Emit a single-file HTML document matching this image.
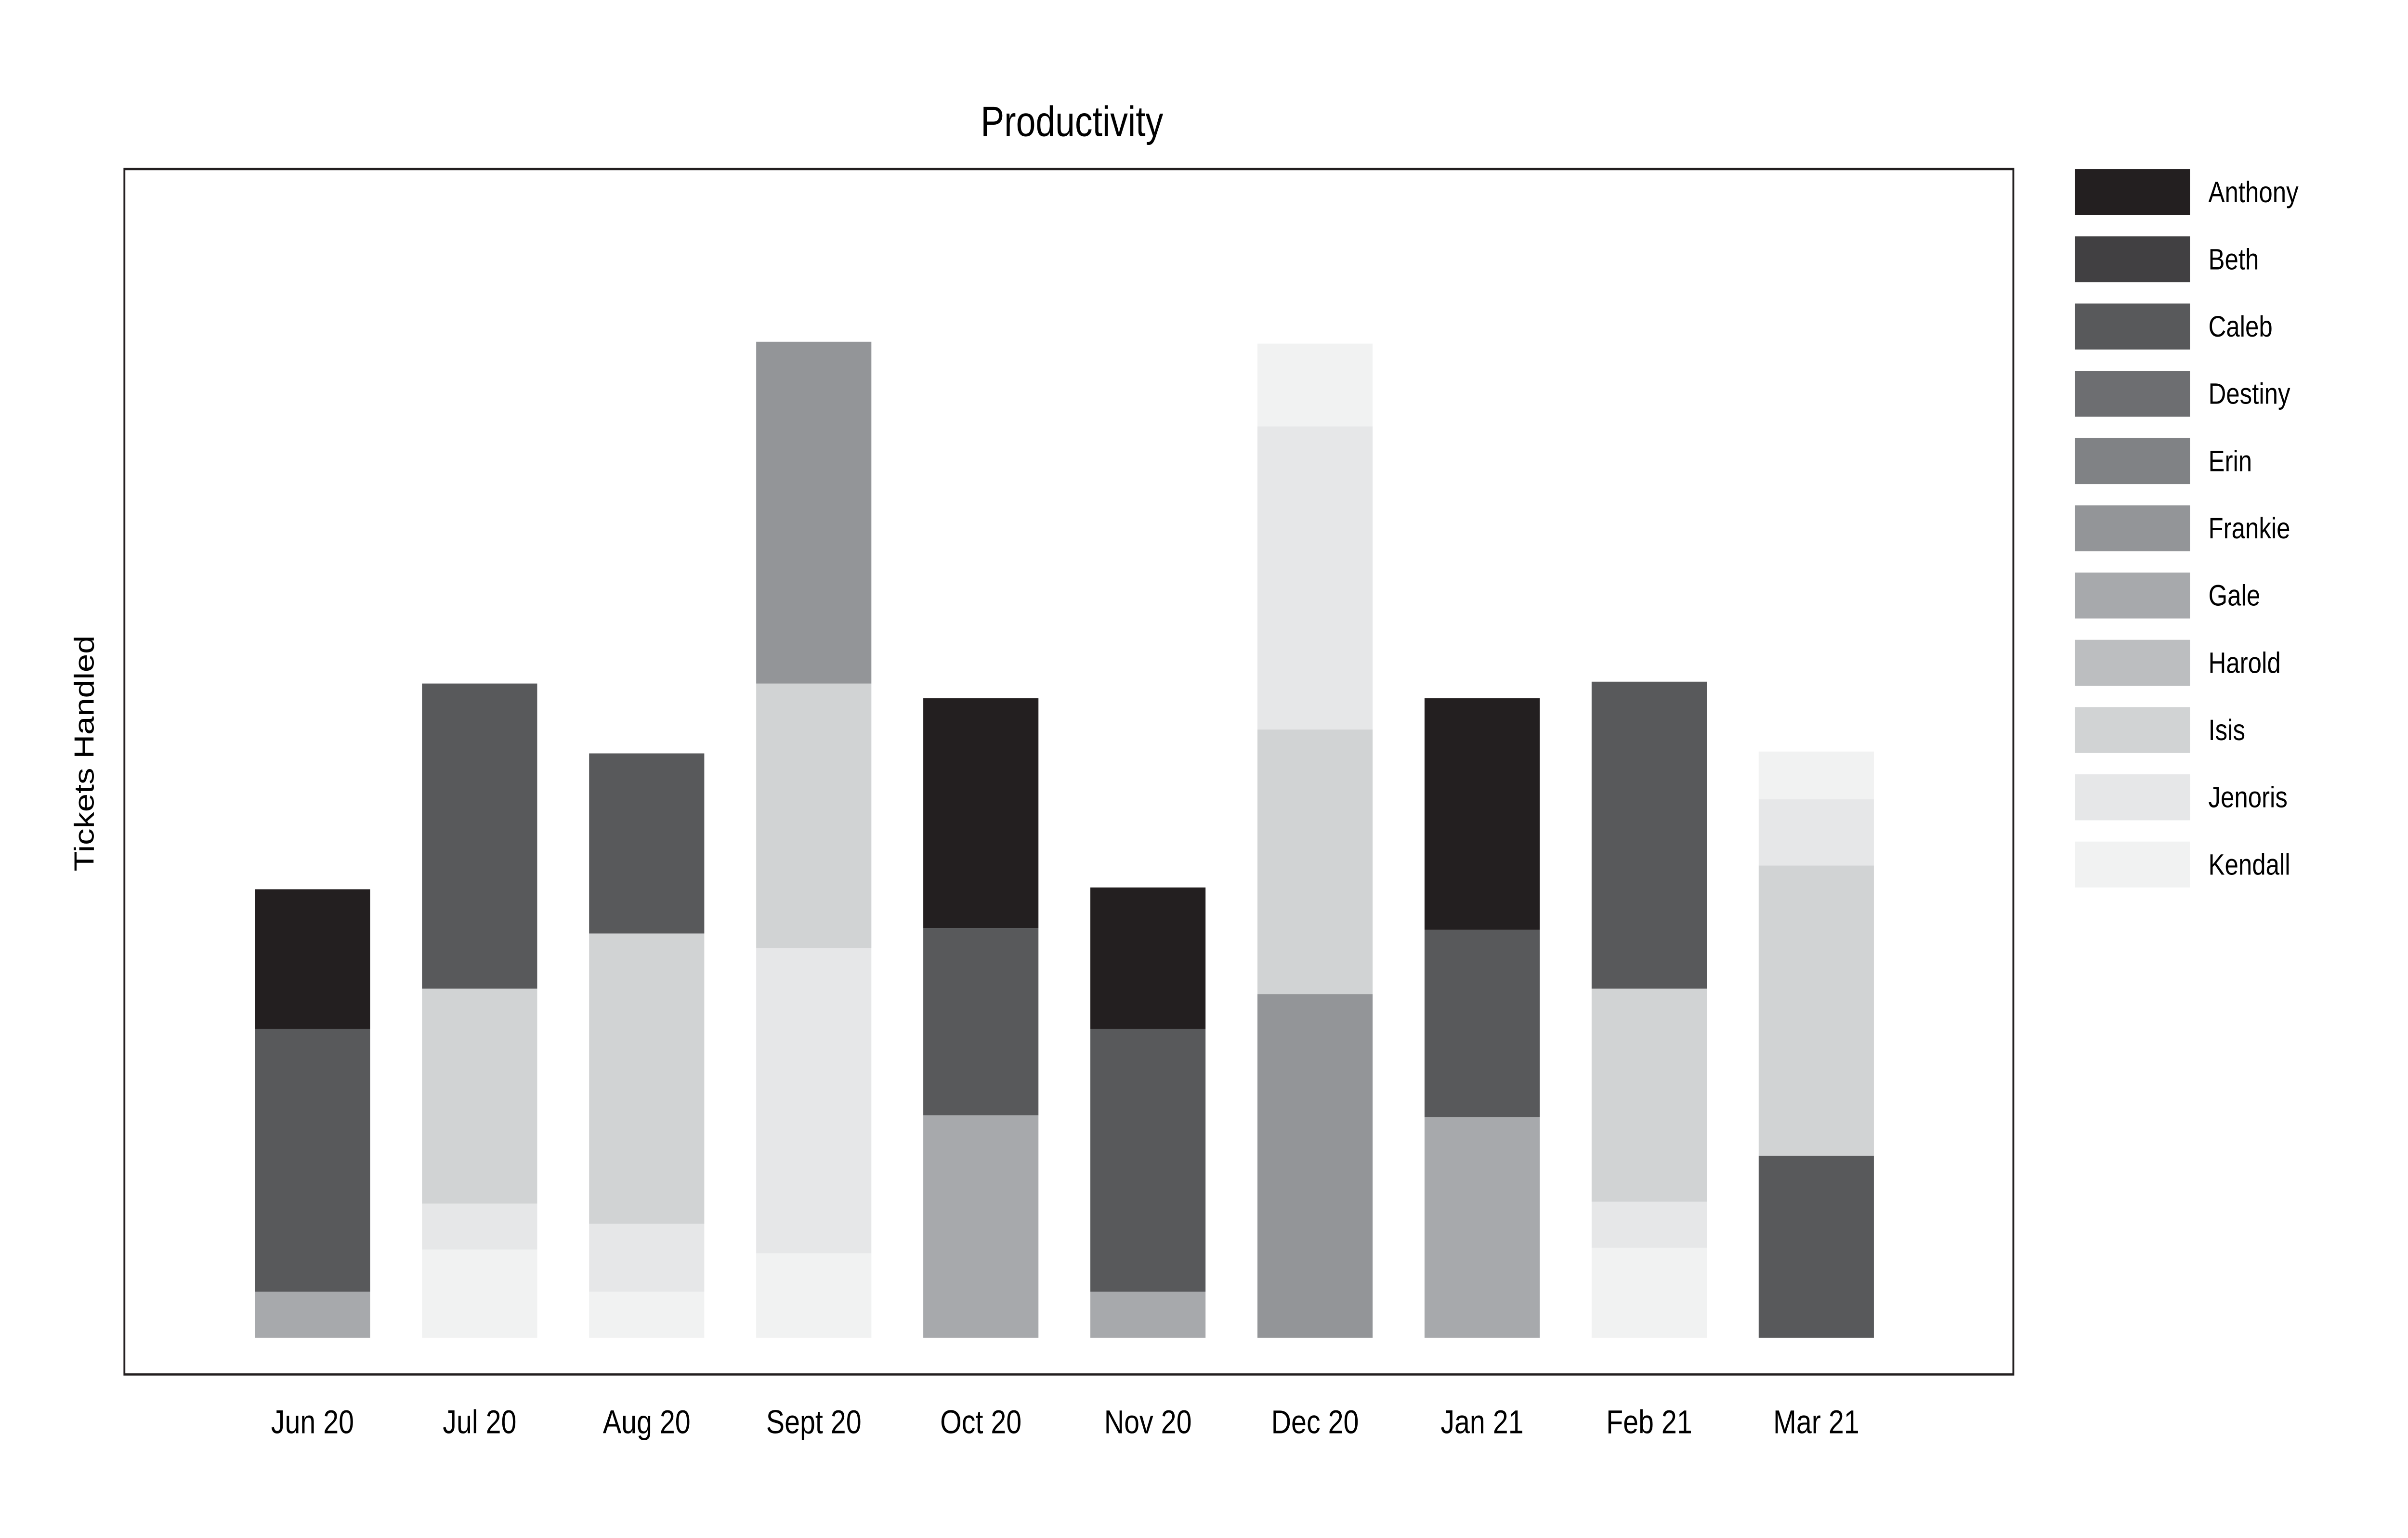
<!DOCTYPE html>
<html><head><meta charset="utf-8"><style>
html,body{margin:0;padding:0;background:#fff;width:100%;height:100%;overflow:hidden;}
svg{display:block;position:absolute;left:0;top:0;width:100vw;height:100vh;}
text{font-family:"Liberation Sans",Arial,sans-serif;fill:#000;}
</style></head><body>
<svg id="chart" viewBox="0 0 1568 837" preserveAspectRatio="none" xmlns="http://www.w3.org/2000/svg">
<text x="698" y="74" font-size="23" text-anchor="middle">Productivity</text>
<rect x="81" y="92" width="1230" height="656" fill="none" stroke="#231f20" stroke-width="1.2"/>
<text transform="translate(61,410) rotate(-90)" font-size="18" text-anchor="middle">Tickets Handled</text>
<g id="bars"></g><g id="xlabels"></g><g id="legend"></g>
</svg>
<script>
const months = ["Jun 20","Jul 20","Aug 20","Sept 20","Oct 20","Nov 20","Dec 20","Jan 21","Feb 21","Mar 21"];
const people = ["Anthony","Beth","Caleb","Destiny","Erin","Frankie","Gale","Harold","Isis","Jenoris","Kendall"];
const colors = ["#231f20","#414042","#58595b","#6d6e71","#808285","#939598","#a7a9ac","#bcbec0","#d1d3d4","#e6e7e8","#f1f2f2"];
// stacks bottom->top: [person index, value]
const stackJun = [[6,25],[2,143],[0,76]];
const stackJul = [[10,48],[9,25],[8,117],[2,166]];
const stackAug = [[10,25],[9,37],[8,158],[2,98]];
const stackSep = [[10,46],[9,166],[8,144],[5,186]];
const stackOct = [[6,121],[2,102],[0,125]];
const stackNov = [[6,25],[2,143],[0,77]];
const stackDec = [[5,187],[8,144],[9,165],[10,45]];
const stackJan = [[6,120],[2,102],[0,126]];
const stackFeb = [[10,49],[9,25],[8,116],[2,167]];
const stackMar = [[2,99],[8,158],[9,36],[10,26]];
const stacks = [stackJun,stackJul,stackAug,stackSep,stackOct,stackNov,stackDec,stackJan,stackFeb,stackMar];

const NS="http://www.w3.org/2000/svg";
const baseY=728, barW=75;
function xCenter(i){return 203.5+i*108.8;}
function yPos(v){return baseY - v;}
const gb=document.getElementById('bars');
stacks.forEach((st,i)=>{
  let cum=0;
  st.forEach(([p,v])=>{
    const r=document.createElementNS(NS,'rect');
    r.setAttribute('x',xCenter(i)-barW/2);
    r.setAttribute('y',yPos(cum+v));
    r.setAttribute('width',barW);
    r.setAttribute('height',v);
    r.setAttribute('fill',colors[p]);
    
    
    gb.appendChild(r);
    cum+=v;
  });
});
const gx=document.getElementById('xlabels');
months.forEach((m,i)=>{
  const t=document.createElementNS(NS,'text');
  t.setAttribute('x',xCenter(i));
  t.setAttribute('y',780);
  t.setAttribute('font-size','18');
  t.setAttribute('text-anchor','middle');
  t.textContent=m;
  
  
  gx.appendChild(t);
});
const gl=document.getElementById('legend');
people.forEach((p,i)=>{
  const y=92+i*36.6;
  const r=document.createElementNS(NS,'rect');
  r.setAttribute('x',1351);r.setAttribute('y',y);
  r.setAttribute('width',75);r.setAttribute('height',25);
  r.setAttribute('fill',colors[i]);
  
  
  gl.appendChild(r);
  const t=document.createElementNS(NS,'text');
  t.setAttribute('x',1438);t.setAttribute('y',y+18);
  t.setAttribute('font-size','16');
  t.textContent=p;
  
  
  gl.appendChild(t);
});
</script>
</body></html>
